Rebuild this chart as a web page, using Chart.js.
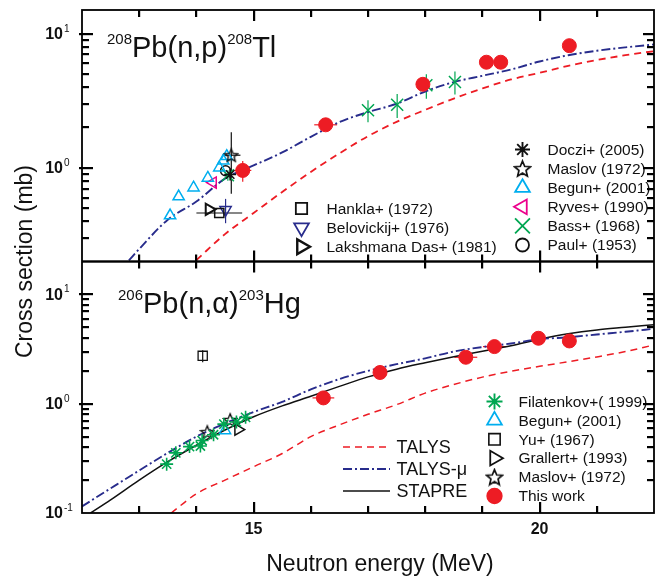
<!DOCTYPE html>
<html><head><meta charset="utf-8">
<script src="https://cdn.jsdelivr.net/npm/chart.js@4/dist/chart.umd.min.js"></script>
<style>html,body{margin:0;padding:0;background:#fff}canvas{display:block}</style>
</head><body>
<canvas id="c" width="664" height="580"></canvas>
<script>
// ---------------- data ----------------
const xRange = [12, 22];
const xLabelTicks = [15, 20];
const yTopRange = [0.2, 15];
const yBotRange = [0.1, 20];
const yTopLabels = [1, 10];
const yBotLabels = [0.1, 1, 10];

// 208Pb(n,p)208Tl  — [E (MeV), sigma (mb)], errors [dE, dsigma]
const npThisWork = [[14.81,0.955],[16.26,2.09],[17.96,4.19],[19.07,6.12],[19.32,6.12],[20.52,8.13]];
const npThisWorkErr = [[0.15,0.17],[0.2,0.1],[0,0],[0,0],[0,0],[0,0]];
const npDoczi = [[14.59,0.89]];
const npMaslov = [[14.61,1.24]];
const npMaslovErr = [[0.16,0.6]];
const npBegun = [[13.54,0.44],[13.69,0.61],[13.95,0.71],[14.2,0.84],[14.4,1.0],[14.47,1.13],[14.53,1.22]];
const npRyves = [[14.29,0.775]];
const npBass = [[14.55,0.88],[17.0,2.68],[17.51,2.95],[18.02,4.12],[18.52,4.36]];
const npBassErr = [[0,0.08],[0,0.5],[0,0.6],[0,0.85],[0,0.85]];
const npPaul = [[14.51,0.95]];
const npHankla = [[14.4,0.46]];
const npHanklaErr = [[0.4,0]];
const npBelovickij = [[14.51,0.486]];
const npBelovickijErr = [[0,0.1]];
const npLakshmana = [[14.22,0.49]];
const npTalysE  = [14.0,14.5,15.0,15.5,16.0,16.5,17.0,17.5,18.0,18.5,19.0,19.5,20.0,20.5,21.0,21.5,22.0];
const npTalys   = [0.205,0.32,0.46,0.66,0.93,1.28,1.72,2.2,2.7,3.28,3.9,4.55,5.1,5.75,6.35,6.9,7.4];
const npTalysMuE = [12.82,13.0,13.5,14.0,14.5,15.0,15.5,16.0,16.5,17.0,17.5,18.0,18.5,19.0,19.5,20.0,20.5,21.0,21.5,22.0];
const npTalysMu  = [0.204,0.248,0.41,0.56,0.83,1.04,1.3,1.7,2.19,2.6,3.0,3.7,4.35,4.85,5.4,6.2,6.9,7.45,7.9,8.3];

// 206Pb(n,alpha)203Hg
const anThisWork = [[16.22,1.13],[17.21,1.93],[18.71,2.66],[19.21,3.33],[19.98,3.97],[20.52,3.75]];
const anThisWorkErr = [[0.19,0],[0,0],[0.2,0],[0.2,0],[0,0],[0,0]];
const anFilatenkov = [[13.48,0.28],[13.64,0.355],[13.88,0.405],[14.07,0.41],[14.1,0.46],[14.3,0.52],[14.48,0.65],[14.7,0.68],[14.86,0.75]];
const anBegun = [[14.5,0.57]];
const anYu = [[14.11,2.74]];
const anYuErr = [[0,0.35]];
const anGrallert = [[14.73,0.58]];
const anMaslov = [[14.19,0.55],[14.59,0.71]];
const anTalysE = [13.56,14.0,14.5,15.0,15.5,16.0,16.5,17.0,17.5,18.0,18.5,19.0,19.5,20.0,20.5,21.0,21.5,22.0];
const anTalys  = [0.1,0.15,0.2,0.265,0.35,0.5,0.64,0.8,0.98,1.25,1.5,1.75,1.98,2.2,2.42,2.68,3.0,3.45];
const anTalysMuE = [12.0,12.5,13.0,13.5,14.0,14.5,15.0,15.5,16.0,16.5,17.0,17.5,18.0,18.5,19.0,19.5,20.0,20.5,21.0,21.5,22.0];
const anTalysMu  = [0.115,0.168,0.245,0.355,0.5,0.66,0.84,1.04,1.35,1.68,2.0,2.3,2.6,3.0,3.3,3.55,3.9,4.05,4.3,4.55,4.85];
const anStapreE = [12.15,12.5,13.0,13.5,14.0,14.5,15.0,15.5,16.0,16.5,17.0,17.5,18.0,18.5,19.0,19.5,20.0,20.5,21.0,21.5,22.0];
const anStapre  = [0.1,0.132,0.2,0.295,0.417,0.575,0.76,0.955,1.17,1.44,1.76,2.07,2.37,2.69,3.02,3.39,3.89,4.36,4.73,5.0,5.28];

// tick values built from the axis ranges
const xTickValues = [];
for (let e = xRange[0] + 1; e < xRange[1]; e++) xTickValues.push(e);
function logTickValues(range) {
  const out = [];
  for (let n = -2; n <= 2; n++) for (let k = 1; k <= 9; k++) {
    const v = +(k * Math.pow(10, n)).toPrecision(6);
    if (v > range[0] * 1.0001 && v < range[1] * 0.9999) out.push({v, major: k === 1});
  }
  return out;
}
const yTopTickValues = logTickValues(yTopRange);
const yBotTickValues = logTickValues(yBotRange);

// ---------------- styles ----------------
const FONT = "'Liberation Sans', Arial, Helvetica, sans-serif";
Chart.defaults.font.family = FONT;
const RED = 'rgb(237,28,36)', CYAN = 'rgb(0,174,239)', MAG = 'rgb(236,0,140)',
      GREEN = 'rgb(0,166,81)', BLUE = 'rgb(40,44,140)', BLACK = '#111';
const NONE = 'rgba(0,0,0,0)';

function makeStar(size, color, lw) {
  const c = document.createElement('canvas');
  c.width = size; c.height = size;
  const g = c.getContext('2d');
  const cx = size/2, cy = size/2 + size*0.04, R = size/2 - 1.2, r = R*0.45;
  g.beginPath();
  for (let i = 0; i < 10; i++) {
    const a = -Math.PI/2 + i*Math.PI/5;
    const rr = i % 2 ? r : R;
    g.lineTo(cx + rr*Math.cos(a), cy + rr*Math.sin(a));
  }
  g.closePath();
  g.lineWidth = lw; g.strokeStyle = color; g.stroke();
  return c;
}
const starImg = makeStar(16, BLACK, 1.4);
const starImgLegend = makeStar(19, BLACK, 1.7);

const ST = {
  thisWork:  {pointStyle:'circle',   radius:7,   rotation:0,   bg:RED,  border:RED,  bw:1},
  doczi:     {pointStyle:'star',     radius:6,   rotation:0,   bg:NONE, border:BLACK,bw:1.6},
  maslov:    {pointStyle:starImg,    radius:8,   rotation:0,   bg:NONE, border:BLACK,bw:1.4},
  begun:     {pointStyle:'triangle', radius:6.5, rotation:0,   bg:NONE, border:CYAN, bw:1.5},
  ryves:     {pointStyle:'triangle', radius:6.5, rotation:270, bg:NONE, border:MAG,  bw:1.5},
  bass:      {pointStyle:'crossRot', radius:8.5, rotation:0,   bg:NONE, border:GREEN,bw:1.5},
  paul:      {pointStyle:'circle',   radius:5,   rotation:0,   bg:NONE, border:BLACK,bw:1.5},
  hankla:    {pointStyle:'rect',     radius:6.5, rotation:0,   bg:NONE, border:BLACK,bw:1.5},
  belov:     {pointStyle:'triangle', radius:6.5, rotation:180, bg:NONE, border:BLUE, bw:1.5},
  laksh:     {pointStyle:'triangle', radius:6.5, rotation:90,  bg:NONE, border:BLACK,bw:2},
  filat:     {pointStyle:'star',     radius:6.5, rotation:0,   bg:NONE, border:GREEN,bw:1.6},
  yu:        {pointStyle:'rect',     radius:6.5, rotation:0,   bg:NONE, border:BLACK,bw:1.3},
  grallert:  {pointStyle:'triangle', radius:6.5, rotation:90,  bg:NONE, border:BLACK,bw:1.5}
};
function big(st, r, bw) { return Object.assign({}, st, {radius: r, bw: bw || st.bw + 0.3}); }
const LG = {
  doczi: big(ST.doczi, 7.5, 1.9), maslov: Object.assign({}, ST.maslov, {pointStyle: starImgLegend}),
  begun: big(ST.begun, 8.5), ryves: big(ST.ryves, 8.5), bass: big(ST.bass, 10.5), paul: big(ST.paul, 6.5),
  hankla: big(ST.hankla, 8), belov: big(ST.belov, 8.5), laksh: big(ST.laksh, 8.5, 2.4),
  filat: big(ST.filat, 8, 1.9), yu: big(ST.yu, 8), grallert: big(ST.grallert, 8.5), thisWork: big(ST.thisWork, 7.5)
};

function pts(arr) { return arr.map(p => ({x: p[0], y: p[1]})); }
function curve(E, v) { return E.map((e, i) => ({x: e, y: v[i]})); }

function scat(label, arr, st, yAxisID, err) {
  return {
    type: 'scatter', label, data: pts(arr), yAxisID, xAxisID: 'x',
    pointStyle: st.pointStyle, pointRadius: st.radius, pointRotation: st.rotation,
    backgroundColor: st.bg, borderColor: st.border, pointBorderWidth: st.bw, borderWidth: st.bw,
    showLine: false, errorBars: err || null, order: 1
  };
}
function line(label, E, v, color, dash, yAxisID, lw) {
  return {
    type: 'line', label, data: curve(E, v), yAxisID, xAxisID: 'x',
    borderColor: color, borderWidth: lw, borderDash: dash, pointRadius: 0,
    fill: false, cubicInterpolationMode: 'monotone', order: 5
  };
}

const DASH_TALYS = [7,5], DASH_MU = [9,3,2,3];

const datasets = [
  scat('This work (n,p)', npThisWork, ST.thisWork, 'yTop', npThisWorkErr),
  scat('Doczi+ (2005)', npDoczi, ST.doczi, 'yTop'),
  scat('Maslov (1972)', npMaslov, ST.maslov, 'yTop', npMaslovErr),
  scat('Begun+ (2001)', npBegun, ST.begun, 'yTop'),
  scat('Ryves+ (1990)', npRyves, ST.ryves, 'yTop'),
  scat('Bass+ (1968)', npBass, ST.bass, 'yTop', npBassErr),
  scat('Paul+ (1953)', npPaul, ST.paul, 'yTop'),
  scat('Hankla+ (1972)', npHankla, ST.hankla, 'yTop', npHanklaErr),
  scat('Belovickij+ (1976)', npBelovickij, ST.belov, 'yTop', npBelovickijErr),
  scat('Lakshmana Das+ (1981)', npLakshmana, ST.laksh, 'yTop'),
  line('TALYS (n,p)', npTalysE, npTalys, RED, DASH_TALYS, 'yTop', 1.8),
  line('TALYS-μ (n,p)', npTalysMuE, npTalysMu, BLUE, DASH_MU, 'yTop', 1.9),
  scat('This work', anThisWork, ST.thisWork, 'yBot', anThisWorkErr),
  scat('Filatenkov+( 1999)', anFilatenkov, ST.filat, 'yBot'),
  scat('Begun+ (2001) (n,α)', anBegun, ST.begun, 'yBot'),
  scat('Yu+ (1967)', anYu, ST.yu, 'yBot', anYuErr),
  scat('Grallert+ (1993)', anGrallert, ST.grallert, 'yBot'),
  scat('Maslov+ (1972)', anMaslov, ST.maslov, 'yBot'),
  line('TALYS', anTalysE, anTalys, RED, DASH_TALYS, 'yBot', 1.5),
  line('TALYS-μ', anTalysMuE, anTalysMu, BLUE, DASH_MU, 'yBot', 1.9),
  line('STAPRE', anStapreE, anStapre, BLACK, [], 'yBot', 1.5)
];

// ---------------- helpers for drawing ----------------
function drawMarker(ctx, st, x, y) {
  ctx.save();
  ctx.setLineDash([]);
  ctx.fillStyle = st.bg; ctx.strokeStyle = st.border; ctx.lineWidth = st.bw;
  Chart.helpers.drawPoint(ctx, {pointStyle: st.pointStyle, radius: st.radius, rotation: st.rotation, borderWidth: st.bw}, x, y);
  ctx.restore();
}
function drawRich(ctx, x, baseline, parts, bigPx, smallPx, raise) {
  ctx.save();
  ctx.fillStyle = '#111'; ctx.textAlign = 'left'; ctx.textBaseline = 'alphabetic';
  let cx = x;
  for (const p of parts) {
    ctx.font = (p.sup ? smallPx : bigPx) + 'px ' + FONT;
    ctx.fillText(p.t, cx, p.sup ? baseline - raise : baseline);
    cx += ctx.measureText(p.t).width;
  }
  ctx.restore();
}
function seg(ctx, x1, y1, x2, y2) {
  ctx.beginPath(); ctx.moveTo(x1, y1); ctx.lineTo(x2, y2); ctx.stroke();
}

const legendTopRight = [['Doczi+ (2005)', LG.doczi], ['Maslov (1972)', LG.maslov], ['Begun+ (2001)', LG.begun],
                        ['Ryves+ (1990)', LG.ryves], ['Bass+ (1968)', LG.bass], ['Paul+ (1953)', LG.paul]];
const legendTopLeft = [['Hankla+ (1972)', LG.hankla], ['Belovickij+ (1976)', LG.belov], ['Lakshmana Das+ (1981)', LG.laksh]];
const legendBotLines = [['TALYS', RED, DASH_TALYS, 1.7], ['TALYS-μ', BLUE, DASH_MU, 1.8], ['STAPRE', BLACK, [], 1.5]];
const legendBotRight = [['Filatenkov+( 1999)', LG.filat], ['Begun+ (2001)', LG.begun], ['Yu+ (1967)', LG.yu],
                        ['Grallert+ (1993)', LG.grallert], ['Maslov+ (1972)', LG.maslov], ['This work', LG.thisWork]];

const errorBarPlugin = {
  id: 'errorBars',
  beforeDatasetsDraw(chart) {
    const ctx = chart.ctx, xs = chart.scales.x;
    chart.data.datasets.forEach((ds) => {
      if (!ds.errorBars) return;
      const ys = chart.scales[ds.yAxisID];
      ctx.save();
      ctx.setLineDash([]);
      ctx.strokeStyle = ds.borderColor; ctx.lineWidth = 1.2;
      ds.data.forEach((p, j) => {
        const [dx, dy] = ds.errorBars[j];
        const px = xs.getPixelForValue(p.x), py = ys.getPixelForValue(p.y);
        if (dx > 0) seg(ctx, xs.getPixelForValue(p.x - dx), py, xs.getPixelForValue(p.x + dx), py);
        if (dy > 0) seg(ctx, px, ys.getPixelForValue(p.y - dy), px, ys.getPixelForValue(p.y + dy));
      });
      ctx.restore();
    });
  }
};

const framePlugin = {
  id: 'frame',
  afterDraw(chart) {
    const ctx = chart.ctx, yt = chart.scales.yTop, yb = chart.scales.yBot;
    const L = chart.chartArea.left, R = chart.chartArea.right;
    const T = yt.top, M = yt.bottom, B = yb.bottom;
    ctx.save();
    ctx.setLineDash([]);
    ctx.strokeStyle = '#000';
    ctx.fillStyle = '#000';
    ctx.lineWidth = 1.8;
    ctx.strokeRect(L, T, R - L, B - T);
    ctx.fillRect(L, M - 1.2, R - L, 2.4);
    ctx.fillStyle = '#111';
    const lab = (s, vals) => vals.forEach(v => {
      const py = s.getPixelForValue(v);
      const ex = String(Math.round(Math.log10(v)));
      ctx.font = 'bold 16px ' + FONT; ctx.textAlign = 'right'; ctx.textBaseline = 'middle';
      ctx.fillText('10', 63, py + 1);
      ctx.font = '10px ' + FONT; ctx.textAlign = 'left'; ctx.textBaseline = 'alphabetic';
      ctx.fillText(ex, 64, py - 2);
    });
    lab(yt, yTopLabels); lab(yb, yBotLabels);
    ctx.save();
    ctx.translate(26, (T + B) / 2);
    ctx.rotate(-Math.PI / 2);
    ctx.font = '23px ' + FONT; ctx.textAlign = 'center'; ctx.textBaseline = 'middle';
    ctx.fillText('Cross section (mb)', 0, 0);
    ctx.restore();
    ctx.font = '23px ' + FONT; ctx.textAlign = 'center'; ctx.textBaseline = 'middle';
    ctx.fillText('Neutron energy (MeV)', 380, 565);
    drawRich(ctx, 107, 57, [{t:'208',sup:true},{t:'Pb(n,p)'},{t:'208',sup:true},{t:'Tl'}], 29, 15, 13);
    drawRich(ctx, 118, 313, [{t:'206',sup:true},{t:'Pb(n,α)'},{t:'203',sup:true},{t:'Hg'}], 29, 15, 13);
    ctx.textAlign = 'left'; ctx.textBaseline = 'middle'; ctx.fillStyle = '#111';
    ctx.font = '15.5px ' + FONT;
    legendTopRight.forEach((e, i) => { const y = 149.5 + i * 19.1; drawMarker(ctx, e[1], 522.5, y); ctx.fillText(e[0], 547.5, y + 1); });
    legendTopLeft.forEach((e, i) => { const y = 208.5 + i * 19.1; drawMarker(ctx, e[1], 301.5, y); ctx.fillText(e[0], 326.5, y + 1); });
    legendBotRight.forEach((e, i) => { const y = 401.5 + i * 18.9; drawMarker(ctx, e[1], 494.5, y); ctx.fillText(e[0], 518.5, y + 1); });
    ctx.font = '18px ' + FONT;
    legendBotLines.forEach((e, i) => {
      const y = 447 + i * 22;
      ctx.save(); ctx.strokeStyle = e[1]; ctx.setLineDash(e[2]); ctx.lineWidth = e[3];
      seg(ctx, 343, y, 390, y); ctx.restore();
      ctx.fillText(e[0], 396.5, y + 1);
    });
    ctx.restore();
  }
};

// inward tick marks at the scale positions, drawn last
const tickPlugin = {
  id: 'inwardTicks',
  afterDraw(chart) {
    const ctx = chart.ctx, xs = chart.scales.x, yt = chart.scales.yTop, yb = chart.scales.yBot;
    const L = chart.chartArea.left, R = chart.chartArea.right;
    const T = yt.top, M = yt.bottom, B = yb.bottom;
    ctx.save();
    ctx.setLineDash([]);
    ctx.globalAlpha = 1;
    ctx.fillStyle = '#000';
    for (const e of xTickValues) {
      const px = Math.round(xs.getPixelForValue(e));
      const len = (e % 5 === 0) ? 11 : 7;
      ctx.fillRect(px - 1, T, 2.2, len);
      ctx.fillRect(px - 1, M - len, 2.2, 2 * len);
      ctx.fillRect(px - 1, B - len, 2.2, len);
    }
    for (const pair of [[yt, yTopTickValues], [yb, yBotTickValues]]) {
      const s = pair[0];
      for (const t of pair[1]) {
        const py = Math.round(s.getPixelForValue(t.v));
        const len = t.major ? 11 : 7;
        ctx.fillRect(L - (t.major ? 3 : 0), py - 1, len + (t.major ? 3 : 0), 2.2);
        ctx.fillRect(R - len, py - 1, len, 2.2);
      }
    }
    ctx.restore();
  }
};

new Chart(document.getElementById('c'), {
  type: 'scatter',
  data: { datasets },
  options: {
    responsive: false, animation: false, devicePixelRatio: 1,
    layout: { padding: { left: 0, right: 9, top: 8, bottom: 0 } },
    plugins: { legend: { display: false }, tooltip: { enabled: false }, title: { display: false } },
    scales: {
      x: {
        type: 'linear', position: 'bottom', min: xRange[0], max: xRange[1],
        grid: { display: false, drawTicks: false }, border: { display: false },
        ticks: {
          stepSize: 1, autoSkip: false, maxRotation: 0, padding: 7, color: '#111',
          font: { size: 16, weight: 'bold' },
          callback: v => xLabelTicks.includes(v) ? String(v) : ''
        },
        title: { display: false },
        afterFit: s => { s.height = 67; }
      },
      yTop: {
        type: 'logarithmic', position: 'left', stack: 'panels', stackWeight: 1, weight: 2,
        min: yTopRange[0], max: yTopRange[1],
        grid: { display: false, drawTicks: false }, border: { display: false },
        ticks: { display: false },
        afterFit: s => { s.width = 82; }
      },
      yBot: {
        type: 'logarithmic', position: 'left', stack: 'panels', stackWeight: 1, weight: 1,
        min: yBotRange[0], max: yBotRange[1],
        grid: { display: false, drawTicks: false }, border: { display: false },
        ticks: { display: false },
        afterFit: s => { s.width = 82; }
      }
    }
  },
  plugins: [errorBarPlugin, framePlugin, tickPlugin]
});
</script>
</body></html>
